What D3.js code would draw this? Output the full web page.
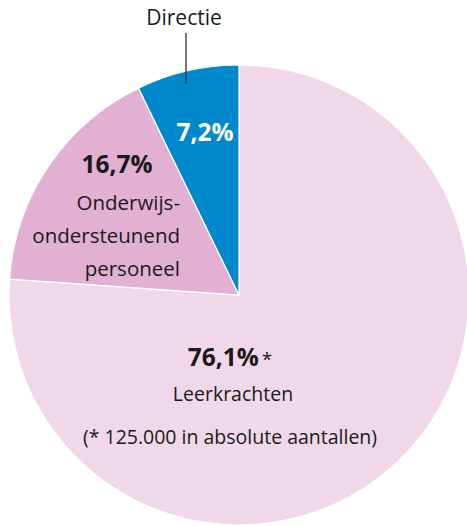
<!DOCTYPE html>
<html lang="nl">
<head>
<meta charset="UTF-8">
<title>Personeel</title>
<script src="https://d3js.org/d3.v7.min.js"></script>
<style>
  body { margin: 0; background: #fff; }
  text { font-family: "Open Sans", "Noto Sans", sans-serif; fill: #1a1a1a; }
  .pct { font-weight: bold; font-size: 24.5px; }
  .lbl { font-size: 20.5px; }
</style>
</head>
<body>
<svg width="467" height="526"></svg>
<script>
const categories = ["Leerkrachten", "Onderwijsondersteunend personeel", "Directie"];
const shares = [76.1, 16.7, 7.2];
const pctLabels = ["76,1%", "16,7%", "7,2%"];
const colors = ["#f1d8e9", "#e2b0d2", "#0088cc"];

const svg = d3.select("svg");
const cx = 239, cy = 295, r = 230;

const pie = d3.pie().sort(null).value(d => d)(shares);
const arc = d3.arc().innerRadius(0).outerRadius(r);

const g = svg.append("g").attr("transform", `translate(${cx},${cy})`);
g.selectAll("path")
  .data(pie)
  .enter()
  .append("path")
  .attr("d", arc)
  .attr("fill", (d, i) => colors[i])
  .attr("stroke", "#fff")
  .attr("stroke-width", 1.2);

// Leerkrachten
svg.append("text").attr("x", 230).attr("y", 366).attr("text-anchor", "middle")
  .html(`<tspan class="pct">${pctLabels[0]}</tspan><tspan font-size="19" dx="3">*</tspan>`);
svg.append("text").attr("x", 233).attr("y", 401).attr("font-size", 19.5)
  .attr("text-anchor", "middle").text(categories[0]);
svg.append("text").attr("x", 230).attr("y", 444).attr("text-anchor", "middle")
  .attr("font-size", 19.5).text("(* 125.000 in absolute aantallen)");

// Onderwijsondersteunend personeel
svg.append("text").attr("class", "pct").attr("x", 117).attr("y", 173)
  .attr("text-anchor", "middle").text(pctLabels[1]);
["Onderwijs-", "ondersteunend", "personeel"].forEach((t, i) => {
  svg.append("text").attr("class", "lbl").attr("x", 180).attr("y", 210 + i * 33)
    .attr("text-anchor", "end").text(t);
});

// Directie
svg.append("text").attr("class", "pct").attr("x", 205).attr("y", 141)
  .attr("text-anchor", "middle").style("fill", "#fff").text(pctLabels[2]);
svg.append("line").attr("x1", 186).attr("x2", 186).attr("y1", 33).attr("y2", 84)
  .attr("stroke", "#333").attr("stroke-width", 1.3);
svg.append("text").attr("x", 184).attr("y", 25).attr("font-size", 21)
  .attr("text-anchor", "middle").text(categories[2]);
</script>
</body>
</html>
